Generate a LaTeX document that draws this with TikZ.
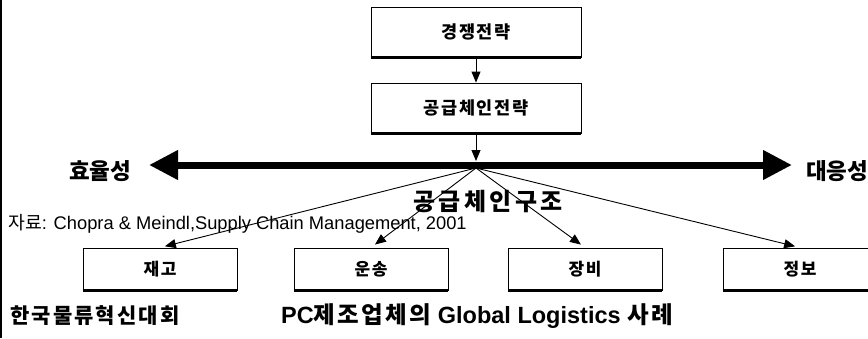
\documentclass[tikz,border=0pt]{standalone}
\usepackage{fontspec}
\setmainfont{Liberation Sans}
\newfontfamily\kr{Noto Sans CJK KR}
\newfontfamily\krs{Noto Sans CJK KR}[LetterSpace=10]
\newfontfamily\krw{Noto Sans CJK KR}[LetterSpace=14]
\usetikzlibrary{arrows.meta}
\begin{document}
\begin{tikzpicture}[x=1pt,y=-1pt,
  bigbox/.style={draw, line width=0.9pt, minimum width=210pt, minimum height=50pt, inner sep=0pt,
    font=\krs\bfseries\fontsize{17.5}{18}\selectfont},
  smallbox/.style={draw, line width=0.9pt, minimum width=154pt, minimum height=42pt, inner sep=0pt,
    font=\krs\bfseries\fontsize{17}{17}\selectfont},
  arr/.style={-{Triangle[length=11pt,width=9pt]}, line width=0.9pt},
  thickarr/.style={{Triangle[length=29pt,width=28pt]}-{Triangle[length=29pt,width=28pt]}, line width=7pt},
  shadowline/.style={line width=2.2pt},
  sideline/.style={line width=1.6pt},
  sidelabel/.style={anchor=west, inner sep=0pt, font=\kr\bfseries\fontsize{22.5}{23}\selectfont},
  bottomtext/.style={anchor=west, inner sep=0pt}
]
\useasboundingbox (0,0) rectangle (868,338);
\clip (0,0) rectangle (868,338);

% left border line
\coordinate (lt) at (1,0);
\coordinate (lb) at (1,338);
\draw[line width=1.3pt] (lt) -- (lb);

% top boxes
\node[bigbox] (comp) at (476,32) {경쟁전략};
\node[bigbox] (scs) at (476,108) {공급체인전략};
\foreach \b in {comp,scs}{
  \draw[shadowline] (\b.south west) -- (\b.south east);
  \draw[sideline] (\b.south east) -- (\b.north east);
}

\coordinate (bartop) at (476,161);
\coordinate (hub) at (476,168);
\coordinate (L) at (149,165);
\coordinate (R) at (792,165);

\draw[arr] (comp.south) -- (scs.north);
\draw[arr] (scs.south) -- (bartop);

% thick double arrow
\draw[thickarr] (L) -- (R);

\node[sidelabel] (eff) at (69,171) {효율성};
\node[sidelabel] (resp) at (806,171) {대응성};

% bottom boxes
\node[smallbox] (inv) at (160,269) {재고};
\node[smallbox] (tra) at (371,269) {운송};
\node[smallbox] (fac) at (585,269) {장비};
\node[smallbox] (inf) at (800,269) {정보};
\foreach \b in {inv,tra,fac,inf}{
  \draw[shadowline] (\b.south west) -- (\b.south east);
  \draw[sideline] (\b.south east) -- (\b.north east);
  \draw[arr, shorten >=5pt] (hub) -- (\b.north);
}

% labels over the fan
\node[inner sep=0pt, font=\krw\bfseries\fontsize{24}{24}\selectfont] (struct) at (488,202) {공급체인구조};
\node[bottomtext, font=\fontsize{18.3}{18}\selectfont] (src) at (8,224) {{\kr 자료}: Chopra \& Meindl,Supply Chain Management, 2001};

\node[bottomtext, font=\krs\bfseries\fontsize{21}{21}\selectfont] (org) at (10,316) {한국물류혁신대회};
\node[bottomtext, font=\bfseries\fontsize{23.5}{23}\selectfont] (title) at (281,316)
  {PC{\krs 제조업체의} Global Logistics {\krs 사례}};
\end{tikzpicture}
\end{document}
